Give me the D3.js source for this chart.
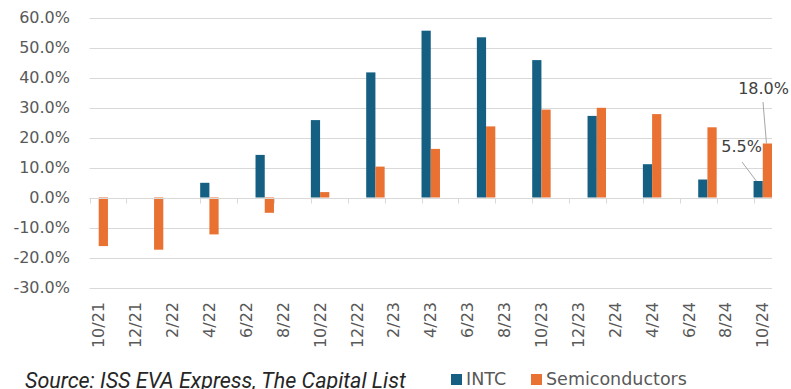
<!DOCTYPE html>
<html>
<head>
<meta charset="utf-8">
<script src="https://cdn.jsdelivr.net/npm/d3@7"></script>
<style>
  body { margin: 0; background: #fff; }
  svg { display: block; }
  text { font-family: "DejaVu Sans", sans-serif; }
</style>
</head>
<body>
<div id="chart"></div>
<script>
// quarterly readings (month/year)
var periods = ["10/21", "1/22", "4/22", "7/22", "10/22", "1/23", "4/23", "7/23", "10/23", "1/24", "4/24", "7/24", "10/24"];
var intc = [null, null, 4.9, 14.2, 25.8, 41.7, 55.6, 53.4, 45.8, 27.2, 11.1, 6.0, 5.5];
var semis = [-16.2, -17.4, -12.3, -5.1, 1.8, 10.3, 16.2, 23.7, 29.3, 29.9, 27.8, 23.4, 18.0];
var tickLabels = ["10/21", "12/21", "2/22", "4/22", "6/22", "8/22", "10/22", "12/22", "2/23", "4/23", "6/23", "8/23", "10/23", "12/23", "2/24", "4/24", "6/24", "8/24", "10/24"];
var yTicks = [-30, -20, -10, 0, 10, 20, 30, 40, 50, 60];
var seriesNames = ["INTC", "Semiconductors"];

function init(){
    var W = 791, H = 389;
    var left = 89.5, right = 772, top = 17.5, bottom = 287.5;
    var colors = {INTC: "#156082", Semiconductors: "#E97132"};

    var svg = d3.select("#chart").append("svg")
        .attr("width", W)
        .attr("height", H);

    // every month of the date axis is one band
    var parse = d3.timeParse("%m/%y");
    var fmt = d3.timeFormat("%-m/%y");
    var months = d3.timeMonth.range(parse("10/21"), d3.timeMonth.offset(parse("10/24"), 1)).map(fmt);

    var xScale = d3.scaleBand()
        .domain(months)
        .range([left, right])
        .padding(0);

    var yScale = d3.scaleLinear()
        .domain([-30, 60])
        .range([bottom, top]);

    // gridlines
    svg.append("g")
        .selectAll("line")
        .data(yTicks)
        .enter().append("line")
        .attr("x1", left)
        .attr("x2", right)
        .attr("y1", function(d){ return Math.round(yScale(d)) + 0.5; })
        .attr("y2", function(d){ return Math.round(yScale(d)) + 0.5; })
        .attr("stroke", "#d9d9d9")
        .attr("stroke-width", 1);

    // y labels
    var yAxis = d3.axisLeft(yScale)
        .tickValues(yTicks)
        .tickSize(0)
        .tickPadding(0)
        .tickFormat(function(d){ return d.toFixed(1) + "%"; });

    var gy = svg.append("g")
        .attr("transform", "translate(70,0)")
        .call(yAxis);
    gy.select(".domain").remove();
    gy.selectAll("text")
        .attr("fill", "#595959")
        .style("font-size", "16px");

    // bars
    var bw = xScale.bandwidth() / 2;
    var data = periods.map(function(p, i){ return {p: p, INTC: intc[i], Semiconductors: semis[i]}; });

    seriesNames.forEach(function(s, k){
        svg.append("g")
            .selectAll("rect")
            .data(data.filter(function(d){ return d[s] != null; }))
            .enter().append("rect")
            .attr("x", function(d){ return xScale(d.p) + k * bw; })
            .attr("width", bw)
            .attr("y", function(d){ return yScale(Math.max(0, d[s])); })
            .attr("height", function(d){ return Math.abs(yScale(d[s]) - yScale(0)); })
            .attr("fill", colors[s]);
    });

    // category axis at zero
    var y0 = Math.round(yScale(0)) + 0.5;
    svg.append("line")
        .attr("x1", left).attr("x2", right)
        .attr("y1", y0).attr("y2", y0)
        .attr("stroke", "#d9d9d9");

    svg.append("g")
        .selectAll("line")
        .data(tickLabels)
        .enter().append("line")
        .attr("x1", function(d){ return Math.round(xScale(d)) + 0.5; })
        .attr("x2", function(d){ return Math.round(xScale(d)) + 0.5; })
        .attr("y1", y0)
        .attr("y2", y0 + 5)
        .attr("stroke", "#d9d9d9");

    svg.append("g")
        .selectAll("text")
        .data(tickLabels)
        .enter().append("text")
        .attr("transform", function(d){
            return "translate(" + (xScale(d) + xScale.bandwidth() / 2) + ",302) rotate(-90)";
        })
        .attr("dy", "0.35em")
        .attr("text-anchor", "end")
        .attr("fill", "#595959")
        .style("font-size", "16px")
        .text(function(d){ return d; });

    // data labels on last point
    var last = data[data.length - 1];
    var xl = xScale(last.p);
    svg.append("line")
        .attr("x1", 763).attr("y1", 102)
        .attr("x2", xl + bw * 1.4).attr("y2", yScale(last.Semiconductors))
        .attr("stroke", "#a6a6a6");
    svg.append("text")
        .attr("x", 789).attr("y", 94)
        .attr("text-anchor", "end")
        .attr("fill", "#404040")
        .style("font-size", "16px")
        .text(last.Semiconductors.toFixed(1) + "%");

    svg.append("line")
        .attr("x1", 742).attr("y1", 162)
        .attr("x2", xl + bw * 0.3).attr("y2", yScale(last.INTC))
        .attr("stroke", "#a6a6a6");
    svg.append("text")
        .attr("x", 762).attr("y", 152)
        .attr("text-anchor", "end")
        .attr("fill", "#404040")
        .style("font-size", "16px")
        .text(last.INTC.toFixed(1) + "%");

    // legend
    var legX = [451, 531];
    var leg = svg.append("g");
    seriesNames.forEach(function(s, k){
        leg.append("rect")
            .attr("x", legX[k]).attr("y", 374)
            .attr("width", 11).attr("height", 11)
            .attr("fill", colors[s]);
        leg.append("text")
            .attr("x", legX[k] + 15).attr("y", 385)
            .attr("fill", "#595959")
            .style("font-size", "17.5px")
            .text(s);
    });

    // source line
    svg.append("text")
        .attr("x", 25).attr("y", 388)
        .attr("fill", "#262626")
        .style("font-family", "Roboto, sans-serif")
        .style("font-style", "italic")
        .style("font-size", "21.5px")
        .text("Source: ISS EVA Express, The Capital List");
}
window.onload = init;
</script>
</body>
</html>
